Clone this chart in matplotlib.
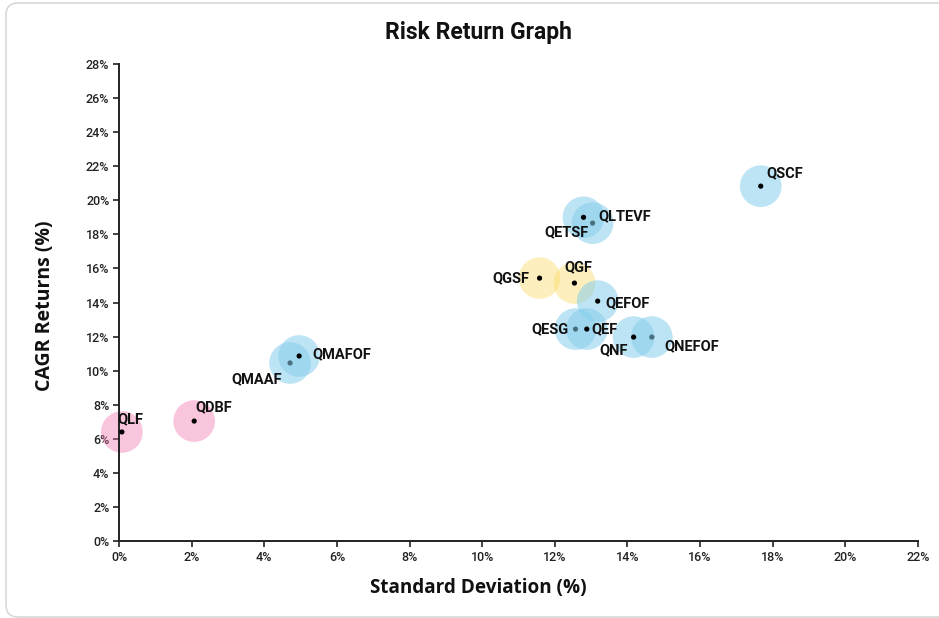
import matplotlib
matplotlib.use('Agg')
import matplotlib.pyplot as plt
import matplotlib.patches as mpatches
from matplotlib.ticker import FuncFormatter, MultipleLocator

plt.rcParams['font.family'] = ['Roboto', 'DejaVu Sans']

# fund data (std dev %, CAGR %), in draw order
funds = ['QLF', 'QDBF', 'QMAAF', 'QMAFOF', 'QGSF', 'QGF', 'QLTEVF', 'QETSF',
         'QEFOF', 'QESG', 'QEF', 'QNEFOF', 'QNF', 'QSCF']
std_dev = [0.08, 2.07, 4.71, 4.96, 11.58, 12.54, 13.04, 12.79,
           13.18, 12.57, 12.88, 14.67, 14.17, 17.67]
cagr = [6.40, 7.04, 10.45, 10.86, 15.43, 15.14, 18.66, 19.00,
        14.08, 12.44, 12.44, 11.97, 11.97, 20.83]
category = ['debt', 'debt', 'equity', 'equity', 'gold', 'gold', 'equity', 'equity',
            'equity', 'equity', 'equity', 'equity', 'equity', 'equity']

colors = {'debt': ('#f06fa8', 0.4), 'equity': ('#87ceeb', 0.55), 'gold': ('#f9d95a', 0.4)}

# label offsets in pixels (dx, dy, ha)
label_pos = {
    'QLF': (-5, 13, 'left'), 'QDBF': (1, 14, 'left'), 'QMAFOF': (13, 2, 'left'),
    'QMAAF': (-8, -16, 'right'), 'QSCF': (6, 13, 'left'), 'QLTEVF': (6, 7, 'left'),
    'QETSF': (5, -15, 'right'), 'QGSF': (-10, 0, 'right'), 'QGF': (4, 16, 'center'),
    'QEFOF': (8, -2, 'left'), 'QESG': (-7, 0, 'right'), 'QEF': (5, 0, 'left'),
    'QNF': (-6, -13, 'right'), 'QNEFOF': (13, -9, 'left'),
}

fig = plt.figure(figsize=(9.39, 6.18), dpi=100)
ax = fig.add_axes([119 / 939, 1 - 541 / 618, 799 / 939, 477 / 618])

z = 2
for name, x, y, cat in zip(funds, std_dev, cagr, category):
    c, a = colors[cat]
    ax.scatter(x, y, s=900, color=c, alpha=a, edgecolors='none', zorder=z, clip_on=False)
    ax.scatter(x, y, s=14, color='black', edgecolors='none', zorder=z + 1, clip_on=False)
    z += 2
    dx, dy, ha = label_pos[name]
    ax.annotate(name, (x, y), xytext=(dx, dy), textcoords='offset pixels',
                ha=ha, va='center', fontsize=10.5, fontweight='bold',
                color='#111111', zorder=100)

ax.set_xlim(0, 22)
ax.set_ylim(0, 28)
ax.xaxis.set_major_locator(MultipleLocator(2))
ax.yaxis.set_major_locator(MultipleLocator(2))
pct = FuncFormatter(lambda v, p: '{:d}%'.format(int(round(v))))
ax.xaxis.set_major_formatter(pct)
ax.yaxis.set_major_formatter(pct)
ax.tick_params(length=4, width=1.2, labelsize=9, colors='#222222', pad=3)
for lab in ax.get_xticklabels() + ax.get_yticklabels():
    lab.set_fontweight('medium')
for side in ['top', 'right']:
    ax.spines[side].set_visible(False)
for side in ['left', 'bottom']:
    ax.spines[side].set_linewidth(1.4)
    ax.spines[side].set_color('#222222')

fig.text(478 / 939, 1 - 33 / 618, 'Risk Return Graph', ha='center', va='center',
         fontsize=16.5, fontweight='bold', color='#111111')
fig.text(478 / 939, 1 - 588 / 618, 'Standard Deviation (%)', ha='center', va='center',
         fontsize=13.6, fontweight='bold', color='#111111', family=['Open Sans', 'DejaVu Sans'])
fig.text(45 / 939, 1 - 306 / 618, 'CAGR Returns (%)', ha='center', va='center',
         rotation=90, fontsize=14, fontweight='bold', color='#111111',
         family=['Open Sans', 'DejaVu Sans'])

border = mpatches.FancyBboxPatch((6, 1), 945, 614,
                                 boxstyle='round,pad=0,rounding_size=12',
                                 transform=None, facecolor='none',
                                 edgecolor='#d8d8d8', linewidth=1.2)
fig.patches.append(border)

fig.savefig('out.png', dpi=100)
